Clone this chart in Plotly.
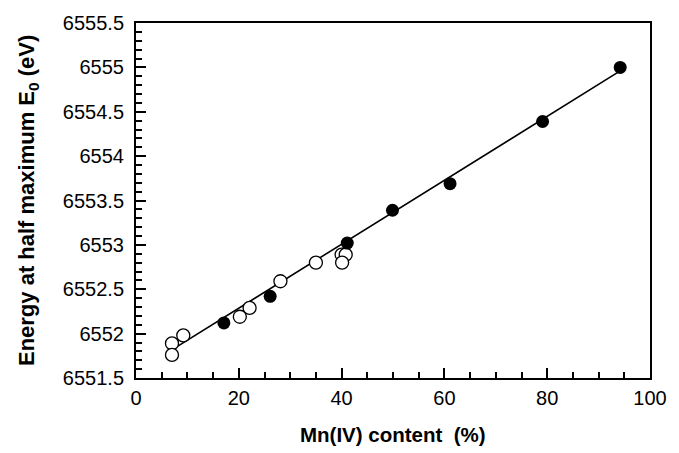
import plotly.graph_objects as go

# Filled circles
filled_x = [17.1, 26.1, 41.1, 49.9, 61.1, 79.1, 94.2]
filled_y = [6552.12, 6552.42, 6553.02, 6553.39, 6553.69, 6554.39, 6555.00]

# Open circles
open_x = [7.0, 7.0, 9.2, 20.2, 22.1, 28.1, 35.0, 40.0, 40.8, 40.1]
open_y = [6551.89, 6551.76, 6551.98, 6552.19, 6552.29, 6552.59, 6552.80, 6552.89, 6552.89, 6552.80]

# Linear fit line
fit_x = [6.5, 94.2]
fit_y = [6551.80, 6554.96]

font_family = "Liberation Sans, Arial, sans-serif"

fig = go.Figure()
fig.add_trace(go.Scatter(x=fit_x, y=fit_y, mode="lines",
                         line=dict(color="black", width=1.6), showlegend=False))
fig.add_trace(go.Scatter(x=open_x, y=open_y, mode="markers",
                         marker=dict(symbol="circle", size=13, color="white",
                                     line=dict(color="black", width=1.3)),
                         showlegend=False))
fig.add_trace(go.Scatter(x=filled_x, y=filled_y, mode="markers",
                         marker=dict(symbol="circle", size=13, color="black",
                                     line=dict(color="black", width=0)),
                         showlegend=False))

fig.update_layout(
    width=679, height=453,
    margin=dict(l=136, r=17, t=14, b=75),
    paper_bgcolor="white", plot_bgcolor="white",
    font=dict(family=font_family, color="black", size=20),
    xaxis=dict(range=[0, 100], dtick=20, tick0=0,
               showgrid=False, zeroline=False,
               showline=True, linecolor="black", linewidth=2, mirror=True,
               ticks="inside", ticklen=10, tickwidth=1.5, tickcolor="black",
               minor=dict(dtick=5, ticks="inside", ticklen=6, tickwidth=1.5, tickcolor="black"),
               tickfont=dict(size=20), ticklabelstandoff=1),
    yaxis=dict(range=[6551.5, 6555.5], dtick=0.5, tick0=6551.5,
               tickformat="~f",
               showgrid=False, zeroline=False,
               showline=True, linecolor="black", linewidth=2, mirror=True,
               ticks="inside", ticklen=10, tickwidth=1.5, tickcolor="black",
               minor=dict(dtick=0.1, ticks="inside", ticklen=6, tickwidth=1.5, tickcolor="black"),
               tickfont=dict(size=20), ticklabelstandoff=6),
    annotations=[
        dict(text="<b>Mn(IV) content  (%)</b>", xref="paper", yref="paper",
             x=0.5, y=-0.158, xanchor="center", yanchor="middle",
             showarrow=False, font=dict(size=20.5)),
        dict(text="<b>Energy at half maximum E<sub>0</sub> (eV)</b>", xref="paper", yref="paper",
             x=-0.211, y=0.5, xanchor="center", yanchor="middle", textangle=-90,
             showarrow=False, font=dict(size=22)),
    ],
)

fig.write_html("out.html")
